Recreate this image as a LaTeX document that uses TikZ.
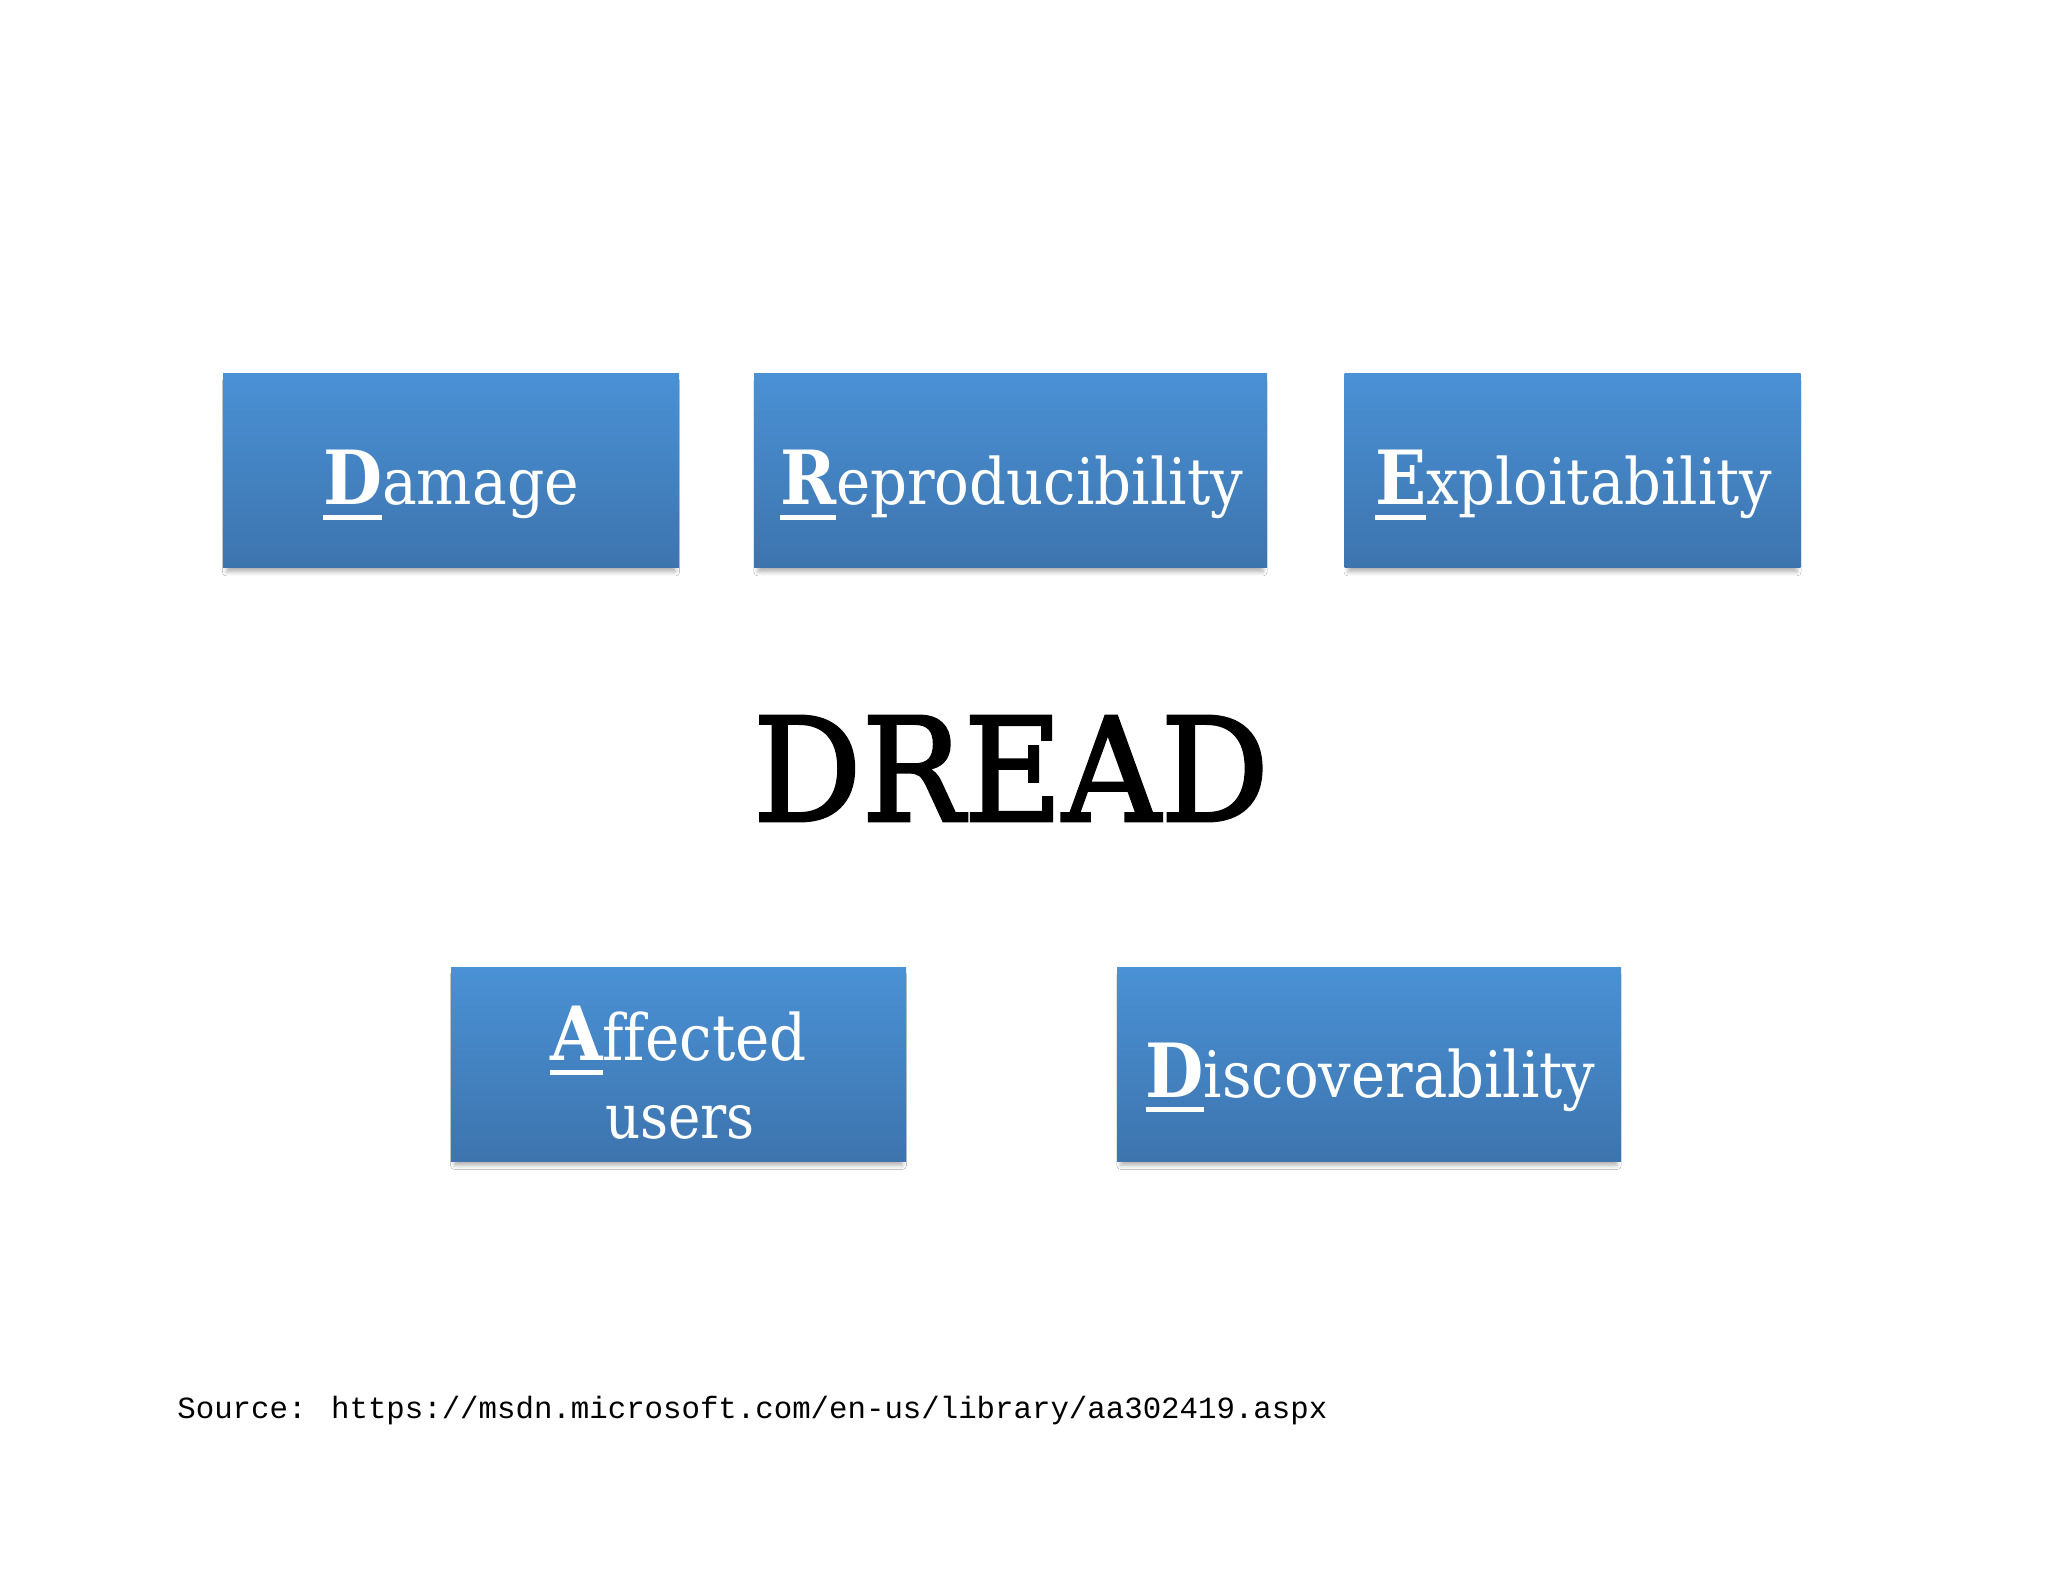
\documentclass[tikz,border=0pt]{standalone}
\usepackage{fontspec}
\usepackage{graphicx}
\setmainfont[Ligatures=NoCommon]{DejaVu Serif}
\newfontfamily\srcfont{Liberation Mono}
\newfontfamily\dreadfont[FakeBold=2]{DejaVu Serif}
\usetikzlibrary{shadows.blur}
\definecolor{boxtop}{HTML}{4A91D5}
\definecolor{boxbot}{HTML}{3D74AE}
\newcommand\inil[1]{\setbox0=\hbox{\fontsize{42}{42}\selectfont\bfseries #1}\rlap{\rule[-8.5pt]{\wd0}{2.8pt}}\box0}
\newcommand\lowr[1]{{\fontsize{36}{36}\selectfont #1}}
\newcommand\fitto[3]{\setbox2=\hbox{#3}\pgfmathsetmacro\fitsx{#1/\the\wd2}\scalebox{\fitsx}[#2]{\box2}}
\tikzset{
  dbox/.style={rectangle, inner sep=0pt, draw=none, top color=boxtop, bottom color=boxbot,
    minimum height=97pt, blur shadow={shadow xshift=0pt, shadow yshift=-3pt, shadow scale=0.985, shadow blur radius=2pt, shadow opacity=30}},
  dtext/.style={anchor=base, inner sep=0pt, text=white},
}
\begin{document}
\begin{tikzpicture}[x=0.5pt, y=-0.5pt]
\useasboundingbox[fill=white] (0,0) rectangle (2048,1582);
% boxes
\node[dbox, minimum width=228pt] (dam) at (451,470.5) {};
\node[dbox, minimum width=256.5pt] (rep) at (1010.5,470.5) {};
\node[dbox, minimum width=228pt] (exp) at (1572.5,470.5) {};
\node[dbox, minimum width=227.5pt] (aff) at (678.5,1064) {};
\node[dbox, minimum width=252pt] (dis) at (1369,1064) {};
% labels
\node[dtext] (damt) at (451,505) {\fitto{128}{0.89}{\inil{D}\lowr{amage}}};
\node[dtext] (rept) at (1011.5,505) {\fitto{231.5}{0.89}{\inil{R}\lowr{eproducibility}}};
\node[dtext] (expt) at (1573.5,505) {\fitto{198.5}{0.89}{\inil{E}\lowr{xploitability}}};
\node[dtext] (afft) at (678.5,1060) {\fitto{128.5}{0.89}{\inil{A}\lowr{ffected}}};
\node[dtext] (usrt) at (680,1138) {\fitto{75}{0.86}{\lowr{users}}};
\node[dtext] (dist) at (1370.5,1097) {\fitto{225}{0.89}{\inil{D}\lowr{iscoverability}}};
% title
\node[anchor=base, inner sep=0pt] (dread) at (1011,821) {\fitto{258}{1.0}{\dreadfont\fontsize{72}{72}\selectfont DREAD}};
% source
\node[anchor=base west, inner sep=0pt] (src) at (177,1418) {\fitto{575}{1.0}{\srcfont\fontsize{15.4}{16}\selectfont Source: https://msdn.microsoft.com/en-us/library/aa302419.aspx}};
\end{tikzpicture}
\end{document}
